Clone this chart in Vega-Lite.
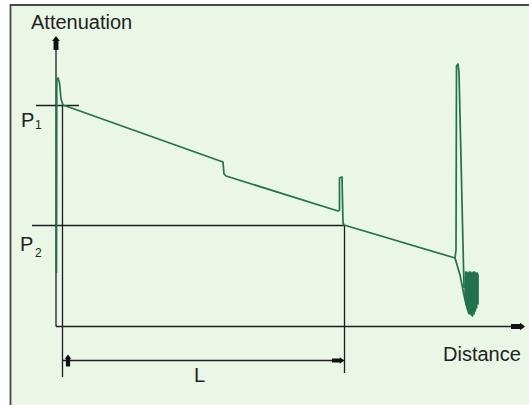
{
  "$schema": "https://vega.github.io/schema/vega-lite/v6.json",
  "width": 529,
  "height": 405,
  "padding": 0,
  "autosize": {"type": "none"},
  "background": "white",
  "config": {"view": {"stroke": null}},
  "datasets": {
    "frame": [{"x": 10.5, "y": 5, "x2": 620, "y2": 520}],
    "trace": [
      {"s": "main", "i": 0, "x": 56.5, "y": 273},
      {"s": "main", "i": 1, "x": 56.8, "y": 80},
      {"s": "main", "i": 2, "x": 58, "y": 78},
      {"s": "main", "i": 3, "x": 59.5, "y": 83},
      {"s": "main", "i": 4, "x": 61, "y": 99},
      {"s": "main", "i": 5, "x": 63, "y": 105},
      {"s": "main", "i": 6, "x": 223, "y": 162},
      {"s": "main", "i": 7, "x": 224, "y": 174},
      {"s": "main", "i": 8, "x": 226, "y": 176},
      {"s": "main", "i": 9, "x": 338, "y": 211},
      {"s": "main", "i": 10, "x": 339.5, "y": 210},
      {"s": "main", "i": 11, "x": 339.5, "y": 178},
      {"s": "main", "i": 12, "x": 342, "y": 177},
      {"s": "main", "i": 13, "x": 343, "y": 223},
      {"s": "main", "i": 14, "x": 344, "y": 225},
      {"s": "main", "i": 15, "x": 455, "y": 258},
      {"s": "main", "i": 16, "x": 456, "y": 250},
      {"s": "main", "i": 17, "x": 456.5, "y": 66},
      {"s": "main", "i": 18, "x": 458, "y": 64},
      {"s": "main", "i": 19, "x": 459, "y": 72},
      {"s": "main", "i": 20, "x": 464, "y": 288},
      {"s": "branch", "i": 0, "x": 455, "y": 258},
      {"s": "branch", "i": 1, "x": 460, "y": 275},
      {"s": "branch", "i": 2, "x": 465, "y": 300},
      {"s": "branch", "i": 3, "x": 469, "y": 314},
      {"s": "noise", "i": 0, "x": 465, "y": 296},
      {"s": "noise", "i": 1, "x": 465.5, "y": 272},
      {"s": "noise", "i": 2, "x": 466, "y": 305},
      {"s": "noise", "i": 3, "x": 466.7, "y": 272},
      {"s": "noise", "i": 4, "x": 467.3, "y": 309},
      {"s": "noise", "i": 5, "x": 468, "y": 273},
      {"s": "noise", "i": 6, "x": 468.6, "y": 312},
      {"s": "noise", "i": 7, "x": 469.3, "y": 272},
      {"s": "noise", "i": 8, "x": 470, "y": 314},
      {"s": "noise", "i": 9, "x": 470.6, "y": 272},
      {"s": "noise", "i": 10, "x": 471.3, "y": 315},
      {"s": "noise", "i": 11, "x": 472, "y": 273},
      {"s": "noise", "i": 12, "x": 472.6, "y": 316},
      {"s": "noise", "i": 13, "x": 473.3, "y": 272},
      {"s": "noise", "i": 14, "x": 474, "y": 314},
      {"s": "noise", "i": 15, "x": 474.6, "y": 272},
      {"s": "noise", "i": 16, "x": 475.3, "y": 311},
      {"s": "noise", "i": 17, "x": 476, "y": 273},
      {"s": "noise", "i": 18, "x": 476.6, "y": 308},
      {"s": "noise", "i": 19, "x": 477.3, "y": 273},
      {"s": "noise", "i": 20, "x": 478, "y": 304},
      {"s": "noise", "i": 21, "x": 478, "y": 274}
    ],
    "lines": [
      {"x": 56, "y": 46, "x2": 56, "y2": 326.5},
      {"x": 56, "y": 326.5, "x2": 514, "y2": 326.5},
      {"x": 36, "y": 105.5, "x2": 79, "y2": 105.5},
      {"x": 32, "y": 225.5, "x2": 344, "y2": 225.5},
      {"x": 62.5, "y": 106, "x2": 62.5, "y2": 377},
      {"x": 344.5, "y": 225, "x2": 344.5, "y2": 373},
      {"x": 62, "y": 360.5, "x2": 344, "y2": 360.5}
    ],
    "axisArrows": [
      {"dir": "up", "x": 56, "y": 43},
      {"dir": "right", "x": 518, "y": 326.5}
    ],
    "dimArrows": [
      {"dir": "left", "x": 68, "y": 360.5},
      {"dir": "right", "x": 338, "y": 360.5}
    ],
    "labels": [
      {"t": "Attenuation", "x": 31, "y": 29},
      {"t": "Distance", "x": 443, "y": 361},
      {"t": "P", "x": 21, "y": 127},
      {"t": "P", "x": 20, "y": 251},
      {"t": "L", "x": 194, "y": 382}
    ],
    "subs": [
      {"t": "1", "x": 35, "y": 129},
      {"t": "2", "x": 35, "y": 257}
    ]
  },
  "encoding": {
    "x": {"field": "x", "type": "quantitative", "axis": null, "scale": {"domain": [0, 529], "nice": false, "zero": false}},
    "y": {"field": "y", "type": "quantitative", "axis": null, "scale": {"domain": [0, 405], "nice": false, "zero": false, "reverse": true}}
  },
  "layer": [
    {
      "data": {"name": "frame"},
      "mark": {"type": "rect", "fill": "#eaf6e6", "stroke": "#474747", "strokeWidth": 1.8},
      "encoding": {"x2": {"field": "x2"}, "y2": {"field": "y2"}}
    },
    {
      "data": {"name": "lines"},
      "mark": {"type": "rule", "color": "#1e1e1e", "strokeWidth": 1.3},
      "encoding": {"x2": {"field": "x2"}, "y2": {"field": "y2"}}
    },
    {
      "data": {"name": "trace"},
      "mark": {"type": "line", "color": "#21724d", "strokeWidth": 1.7, "strokeJoin": "round"},
      "encoding": {
        "detail": {"field": "s"},
        "order": {"field": "i", "type": "quantitative"}
      }
    },
    {
      "data": {"name": "axisArrows"},
      "mark": {"type": "point", "filled": true, "color": "#111111", "opacity": 1, "size": 196},
      "encoding": {
        "shape": {"field": "dir", "type": "nominal", "legend": null, "scale": {"domain": ["up", "right"], "range": ["M0,-1L0.55,-0.3L0.35,-0.3L0.35,1L-0.35,1L-0.35,-0.3L-0.55,-0.3Z", "M1,0L0.3,-0.55L0.3,-0.35L-1,-0.35L-1,0.35L0.3,0.35L0.3,0.55Z"]}}
      }
    },
    {
      "data": {"name": "dimArrows"},
      "mark": {"type": "point", "filled": true, "color": "#111111", "opacity": 1, "size": 144},
      "encoding": {
        "shape": {"field": "dir", "type": "nominal", "legend": null, "scale": {"domain": ["left", "right"], "range": ["M-1,0L-0.3,-0.7L-0.3,-0.5L1,-0.5L1,0.5L-0.3,0.5L-0.3,0.7Z", "M1,0L0.3,-0.7L0.3,-0.5L-1,-0.5L-1,0.5L0.3,0.5L0.3,0.7Z"]}}
      }
    },
    {
      "data": {"name": "labels"},
      "mark": {"type": "text", "align": "left", "baseline": "alphabetic", "font": "Liberation Sans", "fontSize": 20, "color": "#222222"},
      "encoding": {"text": {"field": "t"}}
    },
    {
      "data": {"name": "subs"},
      "mark": {"type": "text", "align": "left", "baseline": "alphabetic", "font": "Liberation Sans", "fontSize": 12, "color": "#222222"},
      "encoding": {"text": {"field": "t"}}
    }
  ]
}
